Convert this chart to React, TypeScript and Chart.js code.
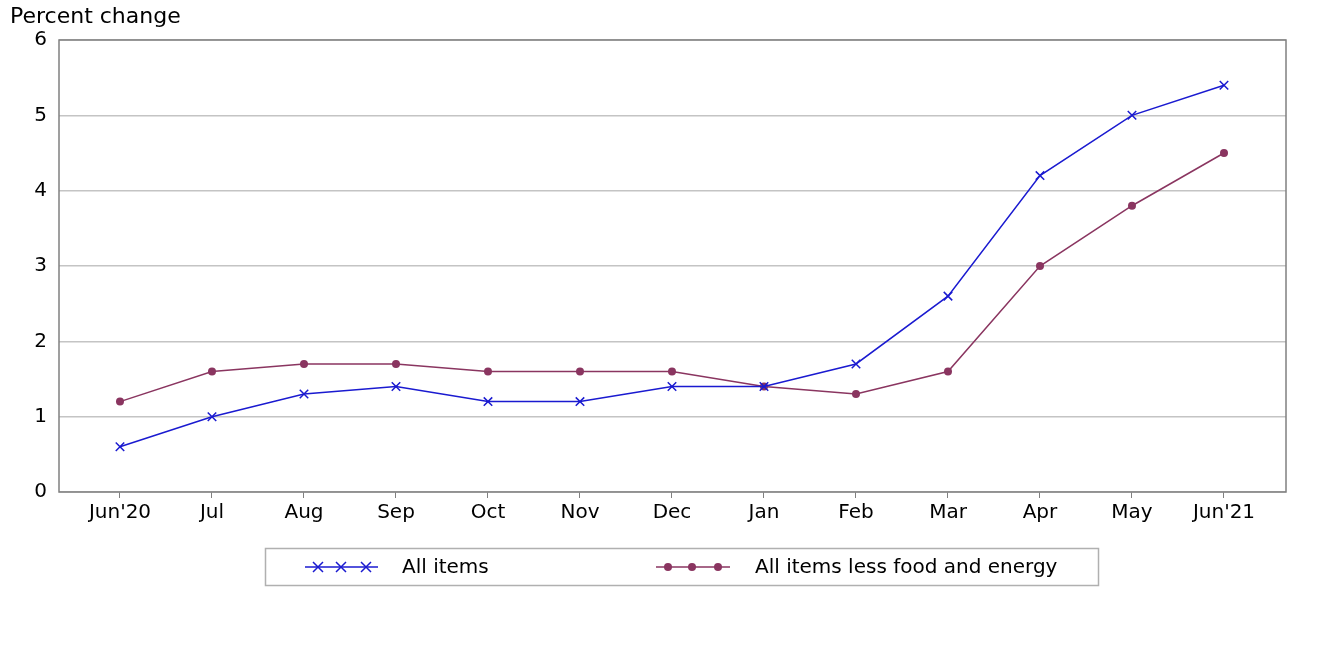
import React, { useEffect, useRef } from "react";
import { Chart, registerables } from "chart.js";

Chart.register(...registerables);

const months = ["Jun'20", "Jul", "Aug", "Sep", "Oct", "Nov", "Dec", "Jan", "Feb", "Mar", "Apr", "May", "Jun'21"];
const allItems = [0.6, 1.0, 1.3, 1.4, 1.2, 1.2, 1.4, 1.4, 1.7, 2.6, 4.2, 5.0, 5.4];
const coreItems = [1.2, 1.6, 1.7, 1.7, 1.6, 1.6, 1.6, 1.4, 1.3, 1.6, 3.0, 3.8, 4.5];
const seriesNames = ["All items", "All items less food and energy"];
const yTitle = "Percent change";

const BLUE = "#1a1ad0";
const MAROON = "#8a3560";
const FONT = "'DejaVu Sans', sans-serif";

export default function App() {
  const ref = useRef<HTMLCanvasElement | null>(null);
  useEffect(() => {
    if (!ref.current) return;
    const framePlugin = {
      id: "frame",
      afterDraw(chart: any) {
        const { ctx, chartArea: a } = chart;
        ctx.save();
        ctx.strokeStyle = "#808080";
        ctx.lineWidth = 1.5;
        ctx.strokeRect(a.left, a.top, a.right - a.left, a.bottom - a.top);
        // y title
        ctx.fillStyle = "#000";
        ctx.font = `22px ${FONT}`;
        ctx.textAlign = "left";
        ctx.textBaseline = "middle";
        ctx.fillText(yTitle, 10, 17);
        // legend box
        ctx.font = `20px ${FONT}`;
        ctx.strokeStyle = "#b0b0b0";
        ctx.lineWidth = 1.5;
        ctx.strokeRect(265.5, 548.5, 833, 37);
        const cy = 567;
        // item 1
        ctx.strokeStyle = BLUE;
        ctx.lineWidth = 1.5;
        ctx.beginPath();
        ctx.moveTo(305, cy);
        ctx.lineTo(378, cy);
        ctx.stroke();
        [318, 341, 366].forEach((x) => {
          ctx.beginPath();
          ctx.moveTo(x - 5, cy - 5);
          ctx.lineTo(x + 5, cy + 5);
          ctx.moveTo(x - 5, cy + 5);
          ctx.lineTo(x + 5, cy - 5);
          ctx.stroke();
        });
        ctx.fillStyle = "#000";
        ctx.fillText(seriesNames[0], 402, cy + 1);
        // item 2
        ctx.strokeStyle = MAROON;
        ctx.beginPath();
        ctx.moveTo(656, cy);
        ctx.lineTo(730, cy);
        ctx.stroke();
        ctx.fillStyle = MAROON;
        [668, 692, 718].forEach((x) => {
          ctx.beginPath();
          ctx.arc(x, cy, 4, 0, Math.PI * 2);
          ctx.fill();
        });
        ctx.fillStyle = "#000";
        ctx.fillText(seriesNames[1], 755, cy + 1);
        ctx.restore();
      },
    };
    const chart = new Chart(ref.current, {
      type: "line",
      data: {
        datasets: [
          {
            label: seriesNames[0],
            data: allItems.map((v, i) => ({ x: i, y: v })),
            borderColor: BLUE,
            backgroundColor: BLUE,
            borderWidth: 1.5,
            pointStyle: "crossRot",
            pointRadius: 6,
            pointBorderWidth: 1.5,
            pointBorderColor: BLUE,
          },
          {
            label: seriesNames[1],
            data: coreItems.map((v, i) => ({ x: i, y: v })),
            borderColor: MAROON,
            backgroundColor: MAROON,
            borderWidth: 1.5,
            pointStyle: "circle",
            pointRadius: 4,
            pointBorderWidth: 0,
          },
        ],
      },
      options: {
        animation: false,
        responsive: false,
        layout: { padding: { left: 0, top: 40, right: 32, bottom: 116 } },
        plugins: { legend: { display: false }, tooltip: { enabled: false } },
        scales: {
          x: {
            type: "linear",
            min: -0.663,
            max: 12.674,
            afterBuildTicks(scale: any) {
              scale.ticks = months.map((_, i) => ({ value: i }));
            },
            ticks: {
              autoSkip: false,
              maxRotation: 0,
              color: "#000",
              font: { family: FONT, size: 20 },
              padding: 3,
              callback: (v: any) => months[v as number] ?? "",
            },
            grid: { display: true, drawOnChartArea: false, tickLength: 6, color: "#808080" },
            border: { display: false },
            afterFit(scale: any) {
              scale.height = 40;
            },
          },
          y: {
            min: 0,
            max: 6,
            ticks: {
              stepSize: 1,
              color: "#000",
              font: { family: FONT, size: 20 },
              padding: 12,
            },
            grid: { color: "#c4c4c4", lineWidth: 1.5, tickLength: 0 },
            border: { display: false },
            afterFit(scale: any) {
              scale.width = 59;
            },
          },
        },
      },
      plugins: [framePlugin],
    } as any);
    return () => chart.destroy();
  }, []);
  return (
    <div style={{ position: "absolute", left: 0, top: 0, width: 1318, height: 648, background: "#fff" }}>
      <canvas ref={ref} width={1318} height={648} style={{ width: 1318, height: 648 }} />
    </div>
  );
}
